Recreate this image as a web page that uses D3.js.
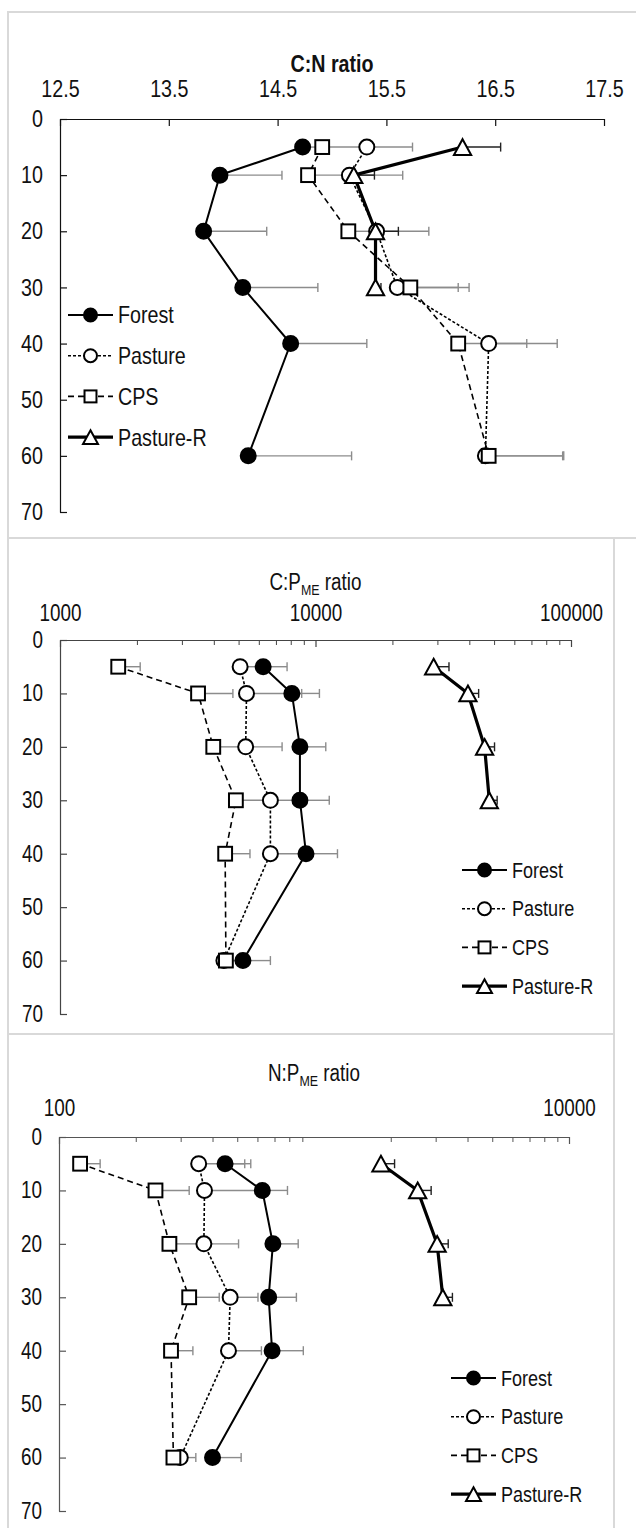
<!DOCTYPE html>
<html>
<head>
<meta charset="utf-8">
<script src="https://cdn.jsdelivr.net/npm/d3@7"></script>
<style>
  body { margin: 0; background: #fff; }
  svg { display: block; font-family: "Liberation Sans", Arial, sans-serif; }
</style>
</head>
<body>
<svg id="chart" width="636" height="1528"></svg>
<script>
// Soil depth (cm) of each sampling layer
const depths = [5, 10, 20, 30, 40, 60];
const depthsR = [5, 10, 20, 30];
const depthTicks = [0, 10, 20, 30, 40, 50, 60, 70];
const seriesNames = ["Forest", "Pasture", "CPS", "Pasture-R"];

// C:N ratio (mean and standard error)
const cnTicks = [12.5, 13.5, 14.5, 15.5, 16.5, 17.5];
const cnForest = [14.73, 13.97, 13.82, 14.18, 14.62, 14.23];
const cnForestSE = [0.15, 0.57, 0.58, 0.69, 0.70, 0.95];
const cnPasture = [15.32, 15.16, 15.41, 15.60, 16.44, 16.41];
const cnPastureSE = [0.42, 0.49, 0.48, 0.56, 0.63, 0.71];
const cnCPS = [14.91, 14.78, 15.15, 15.72, 16.16, 16.44];
const cnCPSSE = [0.37, 0.35, 0.21, 0.54, 0.63, 0.69];
const cnPastureR = [16.20, 15.20, 15.40, 15.40];
const cnPastureRSE = [0.35, 0.19, 0.21, 0.05];

// C:P(ME) ratio
const cpTicks = [1000, 10000, 100000];
const cpForest = [6240, 8080, 8690, 8690, 9180, 5200];
const cpForestSE = [1500, 2280, 2280, 2630, 3010, 1460];
const cpPasture = [5070, 5370, 5330, 6660, 6660, 4380];
const cpPastureSE = [930, 3460, 2070, 1810, 2240, 620];
const cpCPS = [1690, 3470, 3980, 4880, 4430, 4460];
const cpCPSSE = [370, 1280, 1220, 1720, 1110, 640];
const cpPastureR = [29000, 39500, 45900, 47900];
const cpPastureRSE = [4300, 4000, 4300, 3500];

// N:P(ME) ratio
const npTicks = [100, 10000];
const npForest = [448, 627, 690, 664, 685, 400];
const npForestSE = [117, 160, 177, 189, 223, 118];
const npPasture = [353, 372, 370, 469, 462, 299];
const npPastureSE = [182, 240, 136, 134, 160, 45];
const npCPS = [121, 239, 271, 324, 275, 281];
const npCPSSE = [24, 85, 77, 101, 60, 14];
const npPastureR = [1830, 2550, 3040, 3200];
const npPastureRSE = [240, 330, 320, 290];

// drawing style of each series
const styles = {
  "Forest":    { marker: "dot",      dash: null,  width: 2,   errColor: "#8c8c8c" },
  "Pasture":   { marker: "circle",   dash: "3,2", width: 1.6, errColor: "#8c8c8c" },
  "CPS":       { marker: "square",   dash: "6,4", width: 1.6, errColor: "#8c8c8c" },
  "Pasture-R": { marker: "triangle", dash: null,  width: 3.2, errColor: "#222" }
};

const svg = d3.select("#chart");
const FONT = '"Liberation Sans", Arial, sans-serif';
const SQUEEZE = 0.82;   // narrow lettering

// panel frames
const frames = [
  { x: 8, y: 12, w: 640, h: 526 },
  { x: 8, y: 538, w: 606, h: 496 },
  { x: 8, y: 1034, w: 606, h: 520 }
];
svg.append("g").selectAll("rect").data(frames).join("rect")
  .attr("x", d => d.x).attr("y", d => d.y)
  .attr("width", d => d.w).attr("height", d => d.h)
  .attr("fill", "none").attr("stroke", "#d9d9d9").attr("stroke-width", 2);

function drawMarker(g, type, cx, cy, s) {
  if (type === "dot" || type === "circle") {
    g.append("circle").attr("cx", cx).attr("cy", cy).attr("r", s)
      .attr("fill", type === "dot" ? "#000" : "#fff")
      .attr("stroke", "#000").attr("stroke-width", 2);
  } else if (type === "square") {
    const h = s * 0.92;
    g.append("rect").attr("x", cx - h).attr("y", cy - h)
      .attr("width", 2 * h).attr("height", 2 * h)
      .attr("fill", "#fff").attr("stroke", "#000").attr("stroke-width", 2);
  } else {
    const h = s * 1.05, w = s * 1.15;
    g.append("path")
      .attr("d", `M${cx},${cy - h}L${cx + w},${cy + h}L${cx - w},${cy + h}Z`)
      .attr("fill", "#fff").attr("stroke", "#000").attr("stroke-width", 2)
      .attr("stroke-linejoin", "miter");
  }
}

function drawPanel(cfg) {
  const g = svg.append("g");
  const x = cfg.x, y = cfg.y;

  // title, squeezed horizontally about its centre
  const cx = (x.range()[0] + x.range()[1]) / 2;
  const t = g.append("g")
    .attr("transform", `translate(${cx},0) scale(${SQUEEZE},1)`)
    .append("text")
    .attr("class", "title")
    .attr("x", 0)
    .attr("y", cfg.titleY)
    .attr("text-anchor", "middle")
    .attr("font-size", cfg.titleSize)
    .attr("font-weight", cfg.titleBold ? "bold" : "normal")
    .attr("fill", "#111");
  t.append("tspan").text(cfg.titleMain);
  if (cfg.titleSub) {
    t.append("tspan").attr("font-size", cfg.titleSize * 0.66).attr("dy", 5).text(cfg.titleSub);
    t.append("tspan").attr("dy", -5).text(" ratio");
  }

  const y0 = y.range()[0];
  // minor ticks for log axes
  if (cfg.minor) {
    const minorAxis = d3.axisTop(x).tickValues(cfg.minor).tickSizeInner(-5).tickSizeOuter(0).tickFormat("");
    const mg = g.append("g").attr("transform", `translate(0,${y0})`).call(minorAxis);
    mg.select(".domain").remove();
    mg.selectAll("line").attr("stroke", cfg.axisColor);
  }
  const xAxis = d3.axisTop(x).tickValues(cfg.ticks).tickSizeInner(-7).tickSizeOuter(0)
    .tickPadding(cfg.tickPad).tickFormat(d => d3.format(cfg.fmt)(d));
  const xg = g.append("g").attr("transform", `translate(0,${y0})`).call(xAxis);
  xg.attr("font-family", FONT).attr("font-size", cfg.labelSize);
  xg.selectAll("line, path").attr("stroke", cfg.axisColor).attr("stroke-width", 1.2);
  xg.selectAll("text").attr("fill", "#111");

  const yAxis = d3.axisLeft(y).tickValues(depthTicks).tickSizeInner(-7).tickSizeOuter(0).tickPadding(cfg.yPad);
  const yg = g.append("g").attr("transform", `translate(${x.range()[0]},0)`).call(yAxis);
  yg.attr("font-family", FONT).attr("font-size", cfg.labelSize);
  yg.selectAll("line, path").attr("stroke", cfg.axisColor).attr("stroke-width", 1.2);
  yg.selectAll("text").attr("fill", "#111");

  // error bars (positive side)
  const eg = g.append("g");
  cfg.series.forEach(s => {
    const st = styles[s.name];
    s.values.forEach((v, i) => {
      const yy = y(s.depths[i]);
      const x1 = x(v), x2 = x(v + s.se[i]);
      eg.append("line").attr("x1", x1).attr("x2", x2).attr("y1", yy).attr("y2", yy)
        .attr("stroke", st.errColor).attr("stroke-width", 1.4);
      eg.append("line").attr("x1", x2).attr("x2", x2).attr("y1", yy - 4.5).attr("y2", yy + 4.5)
        .attr("stroke", st.errColor).attr("stroke-width", 1.4);
    });
  });

  // series lines
  const line = d3.line().x(d => x(d[0])).y(d => y(d[1]));
  cfg.series.forEach(s => {
    const st = styles[s.name];
    g.append("path")
      .datum(s.values.map((v, i) => [v, s.depths[i]]))
      .attr("d", line).attr("fill", "none").attr("stroke", "#000")
      .attr("stroke-width", st.width)
      .attr("stroke-dasharray", st.dash);
  });

  // markers
  cfg.series.forEach(s => {
    const st = styles[s.name];
    const mg = g.append("g");
    s.values.forEach((v, i) => drawMarker(mg, st.marker, x(v), y(s.depths[i]), 7.5));
  });

  // legend
  const lg = g.append("g");
  seriesNames.forEach((name, i) => {
    const st = styles[name];
    const ly = cfg.legend.y + i * cfg.legend.step;
    lg.append("line").attr("x1", cfg.legend.x).attr("x2", cfg.legend.x + 45)
      .attr("y1", ly).attr("y2", ly).attr("stroke", "#000")
      .attr("stroke-width", st.width).attr("stroke-dasharray", st.dash);
    drawMarker(lg, st.marker, cfg.legend.x + 22.5, ly, 6.5);
    lg.append("text").attr("x", cfg.legend.x + 50).attr("y", ly).attr("dy", "0.35em")
      .attr("font-size", cfg.legendSize).attr("fill", "#111").text(name);
  });
}

function makeSeries(f, fse, p, pse, c, cse, r, rse) {
  return [
    { name: "Forest", values: f, se: fse, depths: depths },
    { name: "Pasture", values: p, se: pse, depths: depths },
    { name: "CPS", values: c, se: cse, depths: depths },
    { name: "Pasture-R", values: r, se: rse, depths: depthsR }
  ];
}

function logMinor(lo, hi) {
  const out = [];
  for (let dec = lo; dec < hi; dec *= 10) for (let k = 2; k <= 9; k++) out.push(dec * k);
  return out;
}

drawPanel({
  x: d3.scaleLinear().domain([12.5, 17.5]).range([60, 604]),
  y: d3.scaleLinear().domain([0, 70]).range([119, 512]),
  ticks: cnTicks, fmt: ".1f", tickPad: 22, yPad: 17,
  titleMain: "C:N ratio", titleY: 72, titleSize: 24, titleBold: true,
  labelSize: 24, legendSize: 24, axisColor: "#111",
  legend: { x: 68, y: 315, step: 40.7 },
  series: makeSeries(cnForest, cnForestSE, cnPasture, cnPastureSE, cnCPS, cnCPSSE, cnPastureR, cnPastureRSE)
});

drawPanel({
  x: d3.scaleLog().domain([1000, 100000]).range([60, 571]),
  y: d3.scaleLinear().domain([0, 70]).range([640, 1014]),
  ticks: cpTicks, fmt: "d", tickPad: 19, yPad: 17, minor: logMinor(1000, 100000),
  titleMain: "C:P", titleSub: "ME", titleY: 590, titleSize: 23, titleBold: false,
  labelSize: 23, legendSize: 22, axisColor: "#444",
  legend: { x: 462, y: 870, step: 38.7 },
  series: makeSeries(cpForest, cpForestSE, cpPasture, cpPastureSE, cpCPS, cpCPSSE, cpPastureR, cpPastureRSE)
});

drawPanel({
  x: d3.scaleLog().domain([100, 10000]).range([59, 569]),
  y: d3.scaleLinear().domain([0, 70]).range([1137, 1511]),
  ticks: npTicks, fmt: "d", tickPad: 21, yPad: 17, minor: logMinor(100, 10000),
  titleMain: "N:P", titleSub: "ME", titleY: 1081, titleSize: 23, titleBold: false,
  labelSize: 23, legendSize: 22, axisColor: "#555",
  legend: { x: 451, y: 1378, step: 38.7 },
  series: makeSeries(npForest, npForestSE, npPasture, npPastureSE, npCPS, npCPSSE, npPastureR, npPastureRSE)
});

// Narrow lettering for the single-run labels (titles are scaled by their group).
svg.selectAll("text:not(.title)").each(function () {
  const len = this.getComputedTextLength();
  d3.select(this).attr("textLength", (len * SQUEEZE).toFixed(1)).attr("lengthAdjust", "spacingAndGlyphs");
});
</script>
</body>
</html>
